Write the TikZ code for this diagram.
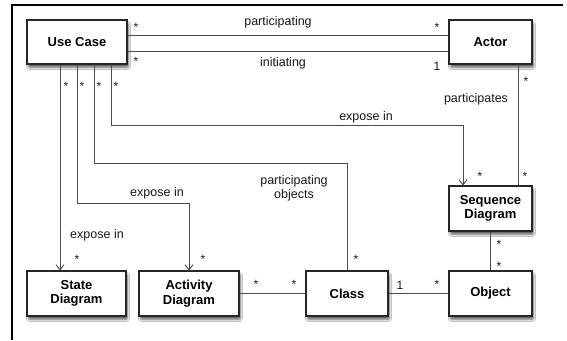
\documentclass[tikz,border=0pt]{standalone}
\usepackage{fontspec}
\setmainfont{Liberation Sans}
\usetikzlibrary{arrows.meta,shadows.blur,calc}
\begin{document}
\begin{tikzpicture}[x=1pt,y=-1pt,
  box/.style={draw=black!85,line width=1.1pt,fill=white,align=center,
    font=\fontsize{13}{14.5}\selectfont\bfseries,inner sep=0pt,
    blur shadow={shadow xshift=1.5pt,shadow yshift=-3.5pt,shadow blur steps=6,shadow blur extra rounding=1pt,shadow opacity=60}},
  conn/.style={draw=black!70,line width=0.9pt},
  arr/.style={conn,-{Straight Barb[length=5pt,width=8pt]}},
  lbl/.style={font=\fontsize{12.5}{14}\selectfont,inner sep=0pt,text=black!90,align=center},
  mult/.style={font=\fontsize{12}{14}\selectfont,inner sep=0pt,text=black!90}]
\useasboundingbox (0,0) rectangle (567,340);
\fill[white] (0,0) rectangle (567,340);
\draw[line width=1.4pt] (12,340) -- (12,5) -- (563,5);

\node[box,minimum width=100pt,minimum height=44pt] (uc) at (77,42) {Use Case};
\node[box,minimum width=83pt,minimum height=44pt] (actor) at (490.5,42) {Actor};
\node[box,minimum width=83pt,minimum height=45pt] (seq) at (490.5,208.5) {Sequence\\Diagram};
\node[box,minimum width=83pt,minimum height=45pt] (obj) at (490.5,293.5) {Object};
\node[box,minimum width=82pt,minimum height=45pt] (cls) at (347,293.5) {Class};
\node[box,minimum width=99pt,minimum height=45pt] (st) at (76.5,293.5) {State\\Diagram};
\node[box,minimum width=100pt,minimum height=45pt] (act) at (189,293.5) {Activity\\Diagram};

% Use Case -- Actor
\draw[conn] ([yshift=7pt]uc.east) -- ([yshift=7pt]actor.west);
\draw[conn] ([yshift=-9pt]uc.east) -- ([yshift=-9pt]actor.west);

% Use Case down lines
\coordinate (b2) at (189,203);
\coordinate (b3) at (347,163);
\coordinate (b4) at (463,125);
\draw[arr] ([xshift=-17pt]uc.south) -- ([xshift=-17pt]uc.south |- st.north);
\draw[arr] (uc.south) |- (b2) -- (act.north);
\draw[conn] ([xshift=17pt]uc.south) |- (b3) -- (cls.north);
\draw[arr] ([xshift=34pt]uc.south) |- (b4) -- (b4 |- seq.north);

% Actor -- Sequence
\draw[conn] ([xshift=27.5pt]actor.south) -- ([xshift=27.5pt]seq.north);
% Sequence -- Object
\draw[conn] (seq.south) -- (obj.north);
% Activity -- Class -- Object
\draw[conn] (act.east) -- (cls.west);
\draw[conn] (cls.east) -- (obj.west);

% labels
\node[lbl] (l1) at (278,22) {participating};
\node[lbl] (l2) at (283,63) {initiating};
\node[lbl] (l3) at (366,117) {expose in};
\node[lbl] (l4) at (476,99) {participates};
\node[lbl] (l5) at (294,188) {participating\\objects};
\node[lbl] (l6) at (157,193) {expose in};
\node[lbl] (l7) at (97,235) {expose in};

% multiplicities
\node[mult] (m1) at (136,27) {*};
\node[mult] (m2) at (437,27) {*};
\node[mult] (m3) at (136,61) {*};
\node[mult] (m4) at (437,66) {1};
\node[mult] (m5) at (66,86) {*};
\node[mult] (m6) at (82,86) {*};
\node[mult] (m7) at (99,86) {*};
\node[mult] (m8) at (116,86) {*};
\node[mult] (m9) at (526,81) {*};
\node[mult] (m10) at (480,176) {*};
\node[mult] (m11) at (525,176) {*};
\node[mult] (m12) at (77,259) {*};
\node[mult] (m13) at (203,259) {*};
\node[mult] (m14) at (356,259) {*};
\node[mult] (m15) at (256,284) {*};
\node[mult] (m16) at (294,284) {*};
\node[mult] (m17) at (400,285) {1};
\node[mult] (m18) at (437,284) {*};
\node[mult] (m19) at (499,244) {*};
\node[mult] (m20) at (499,266) {*};
\end{tikzpicture}
\end{document}
